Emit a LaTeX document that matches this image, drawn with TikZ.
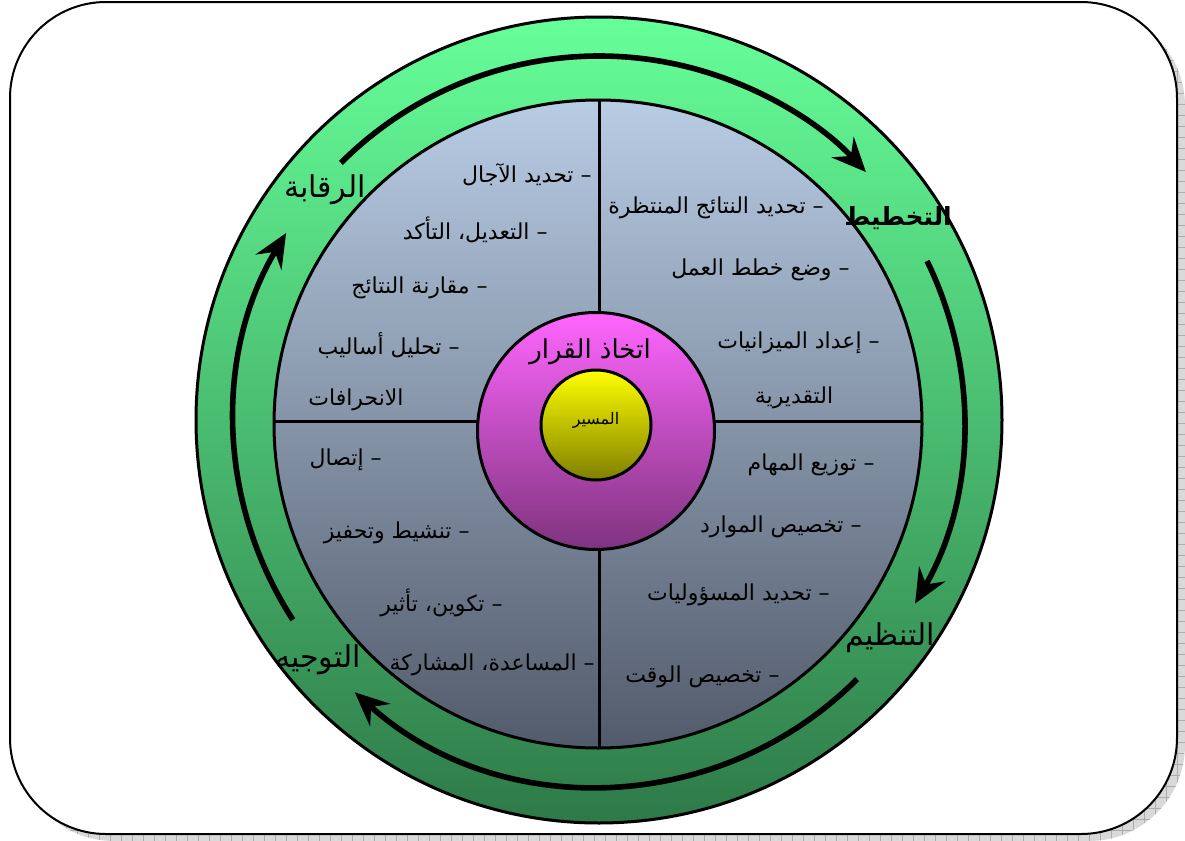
\documentclass[tikz,border=0pt]{standalone}
\usepackage{fontspec}
\usetikzlibrary{arrows.meta, patterns}
\TeXXeTstate=1
\newfontfamily\arabicfont[Script=Arabic]{DejaVu Sans}
\definecolor{ringTop}{HTML}{66FF99}
\definecolor{ringBottom}{HTML}{2E7A48}
\definecolor{diskTop}{HTML}{B8CCE4}
\definecolor{diskBottom}{HTML}{525B6B}
\definecolor{decisionTop}{HTML}{FF66FF}
\definecolor{decisionBottom}{HTML}{7F337F}
\definecolor{coreTop}{HTML}{FFFF00}
\definecolor{coreBottom}{HTML}{7F7F00}
\newcommand{\rtl}[1]{\beginR #1\endR}
\pgfdeclarepatternformonly{shadowgrid}{\pgfqpoint{-1pt}{-1pt}}{\pgfqpoint{6pt}{6pt}}{\pgfqpoint{5.5pt}{5.5pt}}{%
  \pgfsetlinewidth{0.4pt}
  \pgfpathmoveto{\pgfqpoint{0pt}{0pt}}\pgfpathlineto{\pgfqpoint{5.5pt}{0pt}}
  \pgfpathmoveto{\pgfqpoint{0pt}{0pt}}\pgfpathlineto{\pgfqpoint{0pt}{5.5pt}}
  \pgfusepath{stroke}}

\begin{document}
\begin{tikzpicture}[x=0.5pt, y=-0.5pt,
    task/.style={anchor=east, inner sep=0pt, font=\arabicfont\fontsize{11}{13}\selectfont},
    phase/.style={inner sep=0pt, font=\arabicfont\fontsize{15}{17}\selectfont},
    cycle/.style={line width=2.8pt, -{Stealth[length=17pt, width=15pt, inset=6pt]}},
    edge/.style={line width=1.5pt}]
  \useasboundingbox (0,0) rectangle (1185,841);
  % frame and its shadow
  \path[rounded corners=48pt, fill=gray!30, postaction={pattern=shadowgrid, pattern color=gray!65}]
    (18,10) rectangle (1185,841);
  \draw[line width=1pt, fill=white, rounded corners=48pt] (10,2) rectangle (1177,834);
  % rings
  \draw[edge, top color=ringTop, bottom color=ringBottom] (599,420) circle[radius=201.5pt];
  \draw[edge, top color=diskTop, bottom color=diskBottom] (598,424) circle[radius=162pt];
  \draw[edge] (599,100) -- (599,748);
  \draw[edge] (274,421) -- (922,421);
  \draw[edge, top color=decisionTop, bottom color=decisionBottom] (596,431) circle[radius=59.25pt];
  \draw[edge, top color=coreTop, bottom color=coreBottom] (596,425) circle[radius=27.5pt];
  % cycle arrows
  \coordinate (c) at (599,421);
  \draw[cycle] (c) ++(135:182.5pt) arc[start angle=135, end angle=43, radius=182.5pt];
  \draw[cycle] (c) ++(26:182.5pt) arc[start angle=26, end angle=-30, radius=182.5pt];
  \draw[cycle] (c) ++(-45:182.5pt) arc[start angle=-45, end angle=-132, radius=182.5pt];
  \draw[cycle] (c) ++(213:182.5pt) arc[start angle=213, end angle=149, radius=182.5pt];
  % phases
  \node[phase, font=\arabicfont\bfseries\fontsize{12.5}{15}\selectfont] (planning) at (898,218) {\rtl{التخطيط}};
  \node[phase] (organising) at (890,638) {\rtl{التنظيم}};
  \node[phase] (leading) at (318,660) {\rtl{التوجيه}};
  \node[phase] (controlling) at (325,190) {\rtl{الرقابة}};
  % centre
  \node[phase, font=\arabicfont\fontsize{13}{15}\selectfont] (decision) at (590,352) {\rtl{اتخاذ القرار}};
  \node[phase, font=\arabicfont\fontsize{8}{10}\selectfont] (manager) at (596,420) {\rtl{المسير}};
  % planning tasks
  \node[task] (plan1) at (824,208) {\rtl{– تحديد النتائج المنتظرة}};
  \node[task] (plan2) at (850,270) {\rtl{– وضع خطط العمل}};
  \node[task] (plan3) at (880,343) {\rtl{– إعداد الميزانيات}};
  \node[task, anchor=center] (plan3b) at (794,398) {\rtl{التقديرية}};
  % organising tasks
  \node[task] (org1) at (875,465) {\rtl{– توزيع المهام}};
  \node[task] (org2) at (862,527) {\rtl{– تخصيص الموارد}};
  \node[task] (org3) at (830,595) {\rtl{– تحديد المسؤوليات}};
  \node[task] (org4) at (780,677) {\rtl{– تخصيص الوقت}};
  % leading tasks
  \node[task] (lead1) at (382,460) {\rtl{– إتصال}};
  \node[task] (lead2) at (470,533) {\rtl{– تنشيط وتحفيز}};
  \node[task] (lead3) at (503,603) {\rtl{– تكوين، تأثير}};
  \node[task] (lead4) at (595,665) {\rtl{– المساعدة، المشاركة}};
  % controlling tasks
  \node[task] (ctrl1) at (592,175) {\rtl{– تحديد الآجال}};
  \node[task] (ctrl2) at (548,230) {\rtl{– التعديل، التأكد}};
  \node[task] (ctrl3) at (488,288) {\rtl{– مقارنة النتائج}};
  \node[task] (ctrl4) at (460,345) {\rtl{– تحليل أساليب}};
  \node[task, anchor=west] (ctrl4b) at (308,400) {\rtl{الانحرافات}};
\end{tikzpicture}
\end{document}
